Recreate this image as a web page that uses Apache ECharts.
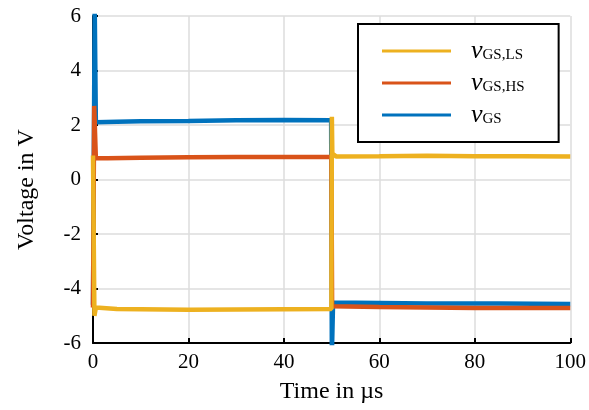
<!DOCTYPE html>
<html>
<head>
<meta charset="utf-8">
<script src="https://cdn.jsdelivr.net/npm/echarts@6/dist/echarts.min.js"></script>
<style>html,body{margin:0;padding:0;background:#fff;}#c{width:589px;height:410px;}</style>
</head>
<body>
<div id="c"></div>
<script>
// Time in µs
var tGS   = [0, 0.3, 0.35, 0.6, 1, 5, 10, 20, 30, 40, 49.9, 50.05, 50.3, 55, 70, 85, 100];
var vGS   = [-4.6, -4.6, 6.5, 2.1, 2.12, 2.12, 2.14, 2.15, 2.17, 2.18, 2.17, -6.5, -4.52, -4.52, -4.55, -4.55, -4.57];
var tGSHS = [0, 0.15, 0.25, 0.6, 1, 3, 10, 20, 30, 40, 49.95, 50.1, 50.5, 60, 70, 80, 90, 100];
var vGSHS = [-4.7, -4.7, 2.7, 0.78, 0.75, 0.78, 0.8, 0.82, 0.83, 0.83, 0.83, -4.65, -4.7, -4.68, -4.7, -4.72, -4.72, -4.72];
var tGSLS = [0, 0.1, 0.3, 0.6, 1, 5, 20, 30, 40, 49.95, 50.05, 50.15, 51, 60, 70, 80, 90, 100];
var vGSLS = [0.88, 0.88, -5.0, -4.7, -4.72, -4.75, -4.78, -4.77, -4.76, -4.75, 2.3, 0.95, 0.84, 0.85, 0.87, 0.85, 0.85, 0.84];
var seriesNames = ['GS,LS', 'GS,HS', 'GS'];
var xTicks = [0, 20, 40, 60, 80, 100];
var yTicks = [-6, -4, -2, 0, 2, 4, 6];

function pairs(t, v) { return t.map(function (x, i) { return [x, v[i]]; }); }

var FONT = 'Liberation Serif';
var chart = echarts.init(document.getElementById('c'), null, {renderer: 'canvas'});
chart.setOption({
  backgroundColor: '#fff',
  animation: false,
  grid: {left: 93, right: 17, top: 16, bottom: 67, containLabel: false},
  xAxis: {
    type: 'value', min: xTicks[0], max: xTicks[xTicks.length - 1], interval: 20,
    name: 'Time in µs', nameLocation: 'middle', nameGap: 37,
    nameTextStyle: {fontFamily: FONT, fontSize: 24, color: '#000'},
    axisLine: {onZero: false, lineStyle: {color: '#000', width: 2}},
    axisTick: {inside: true, length: 5, lineStyle: {color: '#000', width: 2}},
    axisLabel: {fontFamily: FONT, fontSize: 21, color: '#000', margin: 9},
    splitLine: {show: true, lineStyle: {color: '#dcdcdc', width: 1.5}}
  },
  yAxis: {
    type: 'value', min: yTicks[0], max: yTicks[yTicks.length - 1], interval: 2,
    name: 'Voltage in V', nameLocation: 'middle', nameGap: 54, nameRotate: 90,
    nameTextStyle: {fontFamily: FONT, fontSize: 24, color: '#000', padding: [0, 20, 0, 0]},
    axisLine: {onZero: false, lineStyle: {color: '#000', width: 2}},
    axisTick: {inside: true, length: 5, lineStyle: {color: '#000', width: 2}},
    axisLabel: {fontFamily: FONT, fontSize: 21, color: '#000', margin: 12},
    splitLine: {show: true, lineStyle: {color: '#dcdcdc', width: 1.5}}
  },
  legend: {
    orient: 'vertical', left: 358, top: 24,
    data: seriesNames,
    icon: 'rect', itemWidth: 69, itemHeight: 3, itemGap: 6,
    padding: [14, 34, 14, 24],
    backgroundColor: '#fff', borderColor: '#000', borderWidth: 2, borderRadius: 0,
    formatter: function (n) { return '{sp|}{v|v}{s|' + n + '}'; },
    textStyle: {
      rich: {
        sp: {width: 15},
        v: {fontFamily: FONT, fontStyle: 'italic', fontSize: 26, color: '#000', lineHeight: 24},
        s: {fontFamily: FONT, fontSize: 15, color: '#000', lineHeight: 15, padding: [9, 0, 0, 0]}
      }
    }
  },
  series: [
    {name: 'GS', type: 'line', data: pairs(tGS, vGS), showSymbol: false, color: '#0072BD', lineStyle: {width: 4.5}, z: 2},
    {name: 'GS,HS', type: 'line', data: pairs(tGSHS, vGSHS), showSymbol: false, color: '#D95319', lineStyle: {width: 4.5}, z: 3},
    {name: 'GS,LS', type: 'line', data: pairs(tGSLS, vGSLS), showSymbol: false, color: '#EDB120', lineStyle: {width: 4.5}, z: 4}
  ]
});
</script>
</body>
</html>
